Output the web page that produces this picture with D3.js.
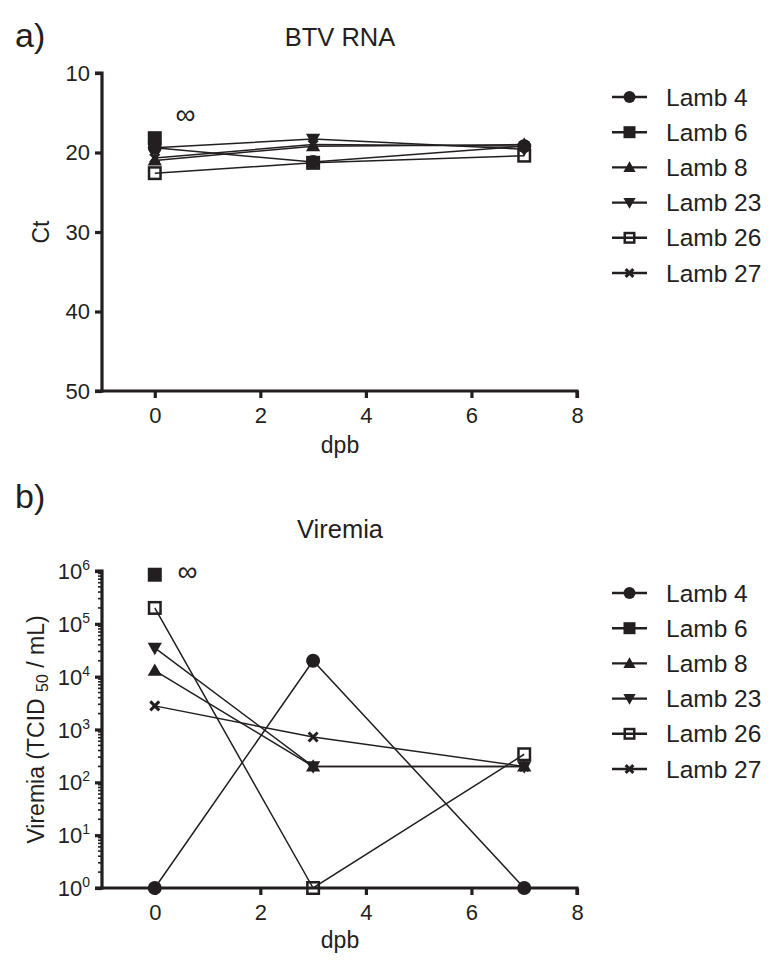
<!DOCTYPE html>
<html>
<head>
<meta charset="utf-8">
<script src="https://cdn.jsdelivr.net/npm/d3@7"></script>
<style>
  body { margin: 0; background: #fff; }
  svg { display: block; font-family: "Liberation Sans", Arial, Helvetica, sans-serif; }
</style>
</head>
<body>
<svg id="chart" width="771" height="964"></svg>
<script>
// ---------- data ----------
const days = [0, 3, 7];
const lambs = ["Lamb 4", "Lamb 6", "Lamb 8", "Lamb 23", "Lamb 26", "Lamb 27"];
const symbolKeys = ["circle", "square", "triangle", "triangleDown", "squareOpen", "cross"];

// panel a: BTV RNA Ct values (null = no sample)
const ctLamb4  = [19.4, 21.2, 19.2];
const ctLamb6  = [18.2, null, null];
const ctLamb8  = [21.0, 19.2, 19.0];
const ctLamb23 = [19.4, 18.3, 19.6];
const ctLamb26 = [22.6, 21.3, 20.4];
const ctLamb27 = [20.7, 19.0, 19.2];
const ctTicks = [10, 20, 30, 40, 50];

// panel b: viremia TCID50/mL
const virLamb4  = [1, 20000, 1];
const virLamb6  = [850000, null, null];
const virLamb8  = [13000, 200, 200];
const virLamb23 = [35000, 200, 200];
const virLamb26 = [200000, 1, 340];
const virLamb27 = [2800, 720, 200];
const virTickExps = [0, 1, 2, 3, 4, 5, 6];

const xTicks = [0, 2, 4, 6, 8];

const ctSeries = [ctLamb4, ctLamb6, ctLamb8, ctLamb23, ctLamb26, ctLamb27];
const virSeries = [virLamb4, virLamb6, virLamb8, virLamb23, virLamb26, virLamb27];

// ---------- drawing ----------
const svg = d3.select("#chart");
const ink = "#231f20";

function drawMarker(g, key, x, y, s) {
  const h = s / 2;
  if (key === "circle") {
    g.append("circle").attr("cx", x).attr("cy", y).attr("r", h).attr("fill", ink);
  } else if (key === "square") {
    g.append("rect").attr("x", x - h).attr("y", y - h).attr("width", s).attr("height", s).attr("fill", ink);
  } else if (key === "squareOpen") {
    const w = s - 2.5;
    g.append("rect").attr("x", x - w / 2).attr("y", y - w / 2).attr("width", w).attr("height", w)
      .attr("fill", "none").attr("stroke", ink).attr("stroke-width", 2.5);
  } else if (key === "triangle") {
    g.append("path").attr("d", d3.symbol(d3.symbolTriangle, s * s * 0.45)()).attr("transform", `translate(${x},${y + 1})`).attr("fill", ink);
  } else if (key === "triangleDown") {
    g.append("path").attr("d", d3.symbol(d3.symbolTriangle, s * s * 0.45)()).attr("transform", `translate(${x},${y - 1}) rotate(180)`).attr("fill", ink);
  } else if (key === "cross") {
    const c = s * 0.32;
    g.append("path").attr("d", `M${x - c},${y - c}L${x + c},${y + c}M${x - c},${y + c}L${x + c},${y - c}`)
      .attr("stroke", ink).attr("stroke-width", 3).attr("fill", "none");
  }
}

function drawLegend(top) {
  const g = svg.append("g");
  lambs.forEach((name, i) => {
    const y = top + i * 35.2;
    g.append("line").attr("x1", 612).attr("x2", 647).attr("y1", y).attr("y2", y).attr("stroke", ink).attr("stroke-width", 2.4);
    drawMarker(g, symbolKeys[i], 629.5, y, 12);
    g.append("text").attr("x", 666).attr("y", y + 8.5).attr("font-size", 24.5).attr("fill", ink).text(name);
  });
}

function styleAxes(gx, gy) {
  [gx, gy].forEach(g => {
    g.select(".domain").attr("stroke", ink).attr("stroke-width", 3.2);
    g.selectAll(".tick line").attr("stroke", ink).attr("stroke-width", 3.2);
    g.selectAll(".tick text").attr("font-size", 22).attr("fill", ink).attr("font-family", "Liberation Sans, Arial, sans-serif");
  });
}

const left = 102, right = 577;

// ===== Panel a =====
{
  const top = 73, bottom = 391;
  const x = d3.scaleLinear().domain([-1, 8]).range([left, right]);
  const y = d3.scaleLinear().domain([10, 50]).range([top, bottom]);

  svg.append("text").attr("x", 15).attr("y", 47).attr("font-size", 34).attr("fill", ink).text("a)");
  svg.append("text").attr("x", 340).attr("y", 46).attr("text-anchor", "middle").attr("font-size", 25.5).attr("fill", ink).text("BTV RNA");

  const yAxis = d3.axisLeft(y).tickValues(ctTicks).tickSize(7).tickPadding(5);
  const gy = svg.append("g").attr("transform", `translate(${left},0)`).call(yAxis);
  const xAxis = d3.axisBottom(x).tickValues(xTicks).tickSize(7).tickPadding(9);
  const gx = svg.append("g").attr("transform", `translate(0,${bottom})`).call(xAxis);
  styleAxes(gx, gy);
  gy.select(".domain").attr("d", `M-7,${top}H0V${bottom}H-7`);
  gx.select(".domain").attr("d", `M${left},0H${right}V7`);

  svg.append("text").attr("x", 340).attr("y", 453).attr("text-anchor", "middle").attr("font-size", 23).attr("fill", ink).text("dpb");
  svg.append("text").attr("transform", `translate(49,${(top + bottom) / 2}) rotate(-90)`).attr("text-anchor", "middle")
    .attr("font-size", 23).attr("fill", ink).text("Ct");

  const line = d3.line().defined(d => d[1] != null).x(d => x(d[0])).y(d => y(d[1]));
  const g = svg.append("g");
  ctSeries.forEach(vals => {
    g.append("path").attr("d", line(days.map((d, i) => [d, vals[i]]))).attr("fill", "none").attr("stroke", ink).attr("stroke-width", 1.5);
  });
  ctSeries.forEach((vals, si) => {
    vals.forEach((v, i) => { if (v != null) drawMarker(g, symbolKeys[si], x(days[i]), y(v), 14); });
  });
  svg.append("text").attr("x", x(0.58)).attr("y", y(16.4)).attr("text-anchor", "middle").attr("font-size", 28).attr("fill", ink).text("∞");

  drawLegend(97);
}

// ===== Panel b =====
{
  const top = 571, bottom = 888;
  const x = d3.scaleLinear().domain([-1, 8]).range([left, right]);
  const y = d3.scaleLog().domain([1, 1e6]).range([bottom, top]);

  svg.append("text").attr("x", 15).attr("y", 508).attr("font-size", 34).attr("fill", ink).text("b)");
  svg.append("text").attr("x", 340).attr("y", 538).attr("text-anchor", "middle").attr("font-size", 25.5).attr("fill", ink).text("Viremia");

  const minor = [];
  for (let e = 0; e < 6; e++) for (let m = 2; m <= 9; m++) minor.push(m * Math.pow(10, e));
  svg.append("g").selectAll("line").data(minor).join("line")
    .attr("x1", left - 4).attr("x2", left).attr("y1", d => y(d)).attr("y2", d => y(d))
    .attr("stroke", ink).attr("stroke-width", 1.6);

  const majors = virTickExps.map(e => Math.pow(10, e));
  const yAxis = d3.axisLeft(y).tickValues(majors).tickSize(7).tickPadding(4).tickFormat("");
  const gy = svg.append("g").attr("transform", `translate(${left},0)`).call(yAxis);
  const xAxis = d3.axisBottom(x).tickValues(xTicks).tickSize(7).tickPadding(9);
  const gx = svg.append("g").attr("transform", `translate(0,${bottom})`).call(xAxis);
  styleAxes(gx, gy);
  gy.select(".domain").attr("d", `M-7,${top}H0V${bottom}H-7`);
  gx.select(".domain").attr("d", `M${left},0H${right}V7`);

  const lab = svg.append("g");
  virTickExps.forEach(e => {
    const t = lab.append("text").attr("x", left - 12).attr("y", y(Math.pow(10, e)) + 8).attr("text-anchor", "end")
      .attr("font-size", 22).attr("fill", ink);
    t.append("tspan").text("10");
    t.append("tspan").attr("font-size", 14).attr("dy", -9).text(String(e));
  });

  svg.append("text").attr("x", 340).attr("y", 948).attr("text-anchor", "middle").attr("font-size", 23).attr("fill", ink).text("dpb");
  const yl = svg.append("text").attr("transform", `translate(44,${(top + bottom) / 2}) rotate(-90)`).attr("text-anchor", "middle")
    .attr("font-size", 23).attr("fill", ink);
  yl.append("tspan").text("Viremia (TCID ");
  yl.append("tspan").attr("font-size", 16).attr("dy", 4).text("50");
  yl.append("tspan").attr("dy", -4).text(" / mL)");

  const line = d3.line().defined(d => d[1] != null).x(d => x(d[0])).y(d => y(d[1]));
  const g = svg.append("g");
  virSeries.forEach(vals => {
    g.append("path").attr("d", line(days.map((d, i) => [d, vals[i]]))).attr("fill", "none").attr("stroke", ink).attr("stroke-width", 1.5);
  });
  virSeries.forEach((vals, si) => {
    vals.forEach((v, i) => { if (v != null) drawMarker(g, symbolKeys[si], x(days[i]), y(v), 14); });
  });
  svg.append("text").attr("x", x(0.62)).attr("y", y(850000) + 6).attr("text-anchor", "middle").attr("font-size", 28).attr("fill", ink).text("∞");

  drawLegend(593);
}
</script>
</body>
</html>
